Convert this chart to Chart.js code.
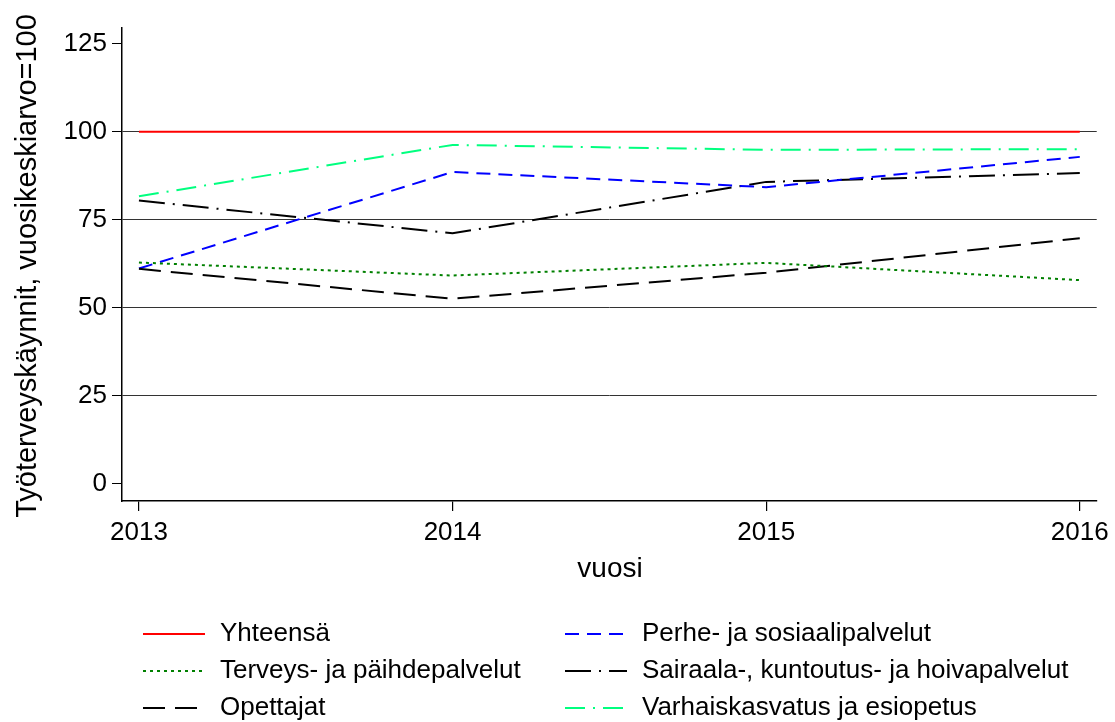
<!DOCTYPE html>
<html><head><meta charset="utf-8">
<script src="https://cdn.jsdelivr.net/npm/chart.js@4/dist/chart.umd.min.js"></script>
<style>html,body{margin:0;padding:0;background:#fff}#wrap{width:1115px;height:722px}</style>
</head><body><div id="wrap"><canvas id="c" width="1115" height="722"></canvas></div>
<script>
const years = [2013, 2014, 2015, 2016];
const yTicks = [0, 25, 50, 75, 100, 125];
const seriesNames = ["Yhteensä", "Terveys- ja päihdepalvelut", "Opettajat",
  "Perhe- ja sosiaalipalvelut", "Sairaala-, kuntoutus- ja hoivapalvelut", "Varhaiskasvatus ja esiopetus"];
const yhteensa  = [100, 100, 100, 100];
const terveys   = [62.9, 59.2, 62.8, 57.9];
const opettajat = [61.1, 52.6, 60.0, 69.8];
const perhe     = [61.2, 88.6, 84.3, 92.9];
const sairaala  = [80.5, 71.2, 85.8, 88.3];
const varhais   = [81.7, 96.3, 94.9, 95.1];
const xTitle = "vuosi";
const yTitle = "Työterveyskäynnit, vuosikeskiarvo=100";

const FONT = "'Liberation Sans', Arial, sans-serif";
const styles = [
  {color: '#ff0000', dash: []},
  {color: '#008000', dash: [3, 4]},
  {color: '#000000', dash: [22, 10]},
  {color: '#0000ff', dash: [14, 8]},
  {color: '#000000', dash: [26, 8, 2, 8]},
  {color: '#00ff7f', dash: [20, 8, 2, 8]}
];
const values = [yhteensa, terveys, opettajat, perhe, sairaala, varhais];
const datasets = values.map((arr, i) => ({
  label: seriesNames[i],
  data: arr.map((v, j) => ({x: years[j], y: v})),
  borderColor: styles[i].color,
  backgroundColor: styles[i].color,
  borderDash: styles[i].dash,
  borderWidth: 2,
  pointRadius: 0,
  tension: 0,
  fill: false
}));

const textPlugin = {
  id: 'textPlugin',
  afterDraw(chart) {
    const ctx = chart.ctx;
    ctx.save();
    ctx.fillStyle = '#000';
    // y title
    ctx.save();
    ctx.translate(28, 266);
    ctx.rotate(-Math.PI / 2);
    ctx.font = '29px ' + FONT;
    ctx.textAlign = 'center';
    ctx.textBaseline = 'middle';
    ctx.fillText(yTitle, 0, 0);
    ctx.restore();
    // x title
    ctx.font = '28px ' + FONT;
    ctx.textAlign = 'center';
    ctx.textBaseline = 'middle';
    ctx.fillText(xTitle, 610, 569);
    // legend
    const colX = [143, 565];
    const rowY = [634, 671, 708];
    ctx.font = '26px ' + FONT;
    ctx.textAlign = 'left';
    chart.data.datasets.forEach((ds, i) => {
      const col = Math.floor(i / 3), row = i % 3;
      const x0 = colX[col], y = rowY[row];
      ctx.save();
      ctx.strokeStyle = ds.borderColor;
      ctx.lineWidth = 2;
      ctx.setLineDash(ds.borderDash);
      ctx.beginPath();
      ctx.moveTo(x0, y);
      ctx.lineTo(x0 + 62, y);
      ctx.stroke();
      ctx.restore();
      ctx.fillStyle = '#000';
      ctx.fillText(ds.label, x0 + 77, y);
    });
    ctx.restore();
  }
};

new Chart(document.getElementById('c'), {
  type: 'line',
  data: {datasets},
  options: {
    responsive: false,
    animation: false,
    devicePixelRatio: 1,
    layout: {padding: {top: 28, right: 17, left: 0, bottom: 0}},
    plugins: {legend: {display: false}, tooltip: {enabled: false}},
    scales: {
      x: {
        type: 'linear',
        min: 2012.946, max: 2016.054,
        afterBuildTicks: s => { s.ticks = years.map(v => ({value: v})); },
        afterFit: s => { s.height = 221; },
        grid: {drawOnChartArea: false, tickLength: 10, color: '#000', tickColor: '#000', lineWidth: 1.2},
        border: {color: '#000', width: 1.5},
        ticks: {font: {size: 26, family: FONT}, color: '#000', padding: 6, maxRotation: 0, autoSkip: false,
          callback: v => String(v)}
      },
      y: {
        min: -4.83, max: 129.5,
        afterBuildTicks: s => { s.ticks = yTicks.map(v => ({value: v})); },
        afterFit: s => { s.width = 122; },
        grid: {
          color: c => (c.tick && (c.tick.value === 0 || c.tick.value === 125)) ? 'rgba(0,0,0,0)' : '#333',
          tickColor: '#000', tickLength: 10, lineWidth: 1
        },
        border: {color: '#000', width: 1.5},
        ticks: {font: {size: 26, family: FONT}, color: '#000', padding: 5, autoSkip: false,
          callback: v => String(v)}
      }
    }
  },
  plugins: [textPlugin]
});
</script>
</body></html>
